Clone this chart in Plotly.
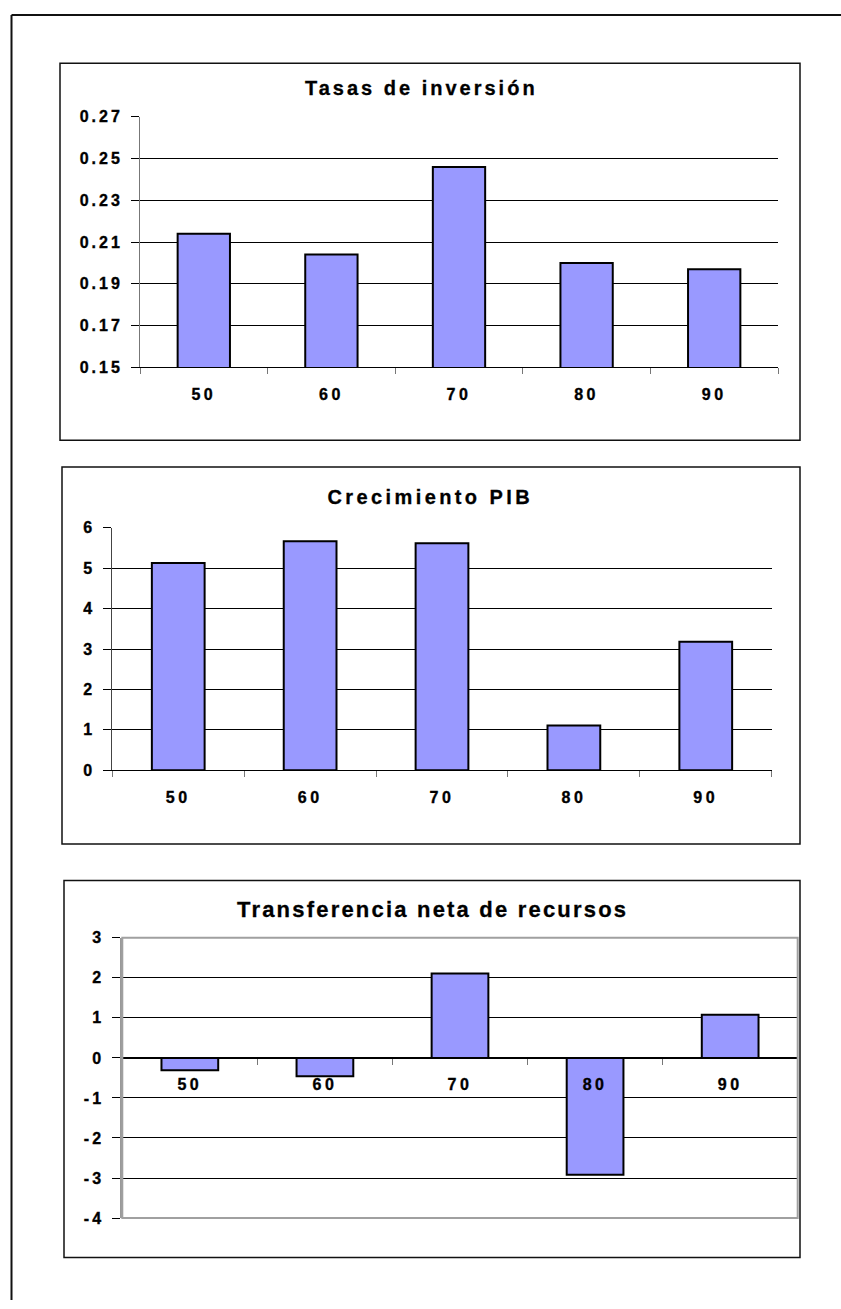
import plotly.graph_objects as go

W, H = 841, 1309

decades = ["50", "60", "70", "80", "90"]
tasas_inversion = [0.214, 0.204, 0.246, 0.200, 0.197]
crecimiento_pib = [5.13, 5.67, 5.62, 1.11, 3.18]
transferencia_neta = [-0.31, -0.46, 2.11, -2.92, 1.08]
transferencia_ticks = [-4, -3, -2, -1, 0, 1, 2, 3]
transferencia_ticklabels = ["-4", "-3", "-2", "-1", "0", "1", "2", "3"]
titles = ["Tasas de inversión", "Crecimiento PIB", "Transferencia neta de recursos"]


def px(x):
    return x / W


def py(y):
    return 1 - y / H


FONT = "Liberation Sans, Arial, sans-serif"
BAR = "#9999FF"

fig = go.Figure()
for vals, xa, ya, wd in [
    (tasas_inversion, "x", "y", 0.41),
    (crecimiento_pib, "x2", "y2", 0.40),
    (transferencia_neta, "x3", "y3", 0.42),
]:
    fig.add_bar(
        x=decades, y=vals, xaxis=xa, yaxis=ya, width=wd,
        marker=dict(color=BAR, line=dict(color="#000000", width=2)),
        hoverinfo="skip",
    )

tickfont = dict(family=FONT, size=16, color="#000000", weight="bold")

common_x = dict(
    type="category", tickson="boundaries", ticks="outside", ticklen=6,
    tickcolor="#777777", tickwidth=1, showline=True, linecolor="#000000",
    linewidth=1, showgrid=False, zeroline=False, tickfont=tickfont,
    ticklabelstandoff=13, fixedrange=True,
)
common_y = dict(
    ticks="outside", ticklen=8, tickcolor="#000000", tickwidth=1,
    showline=True, linecolor="#777777", linewidth=1, showgrid=True,
    gridcolor="#000000", gridwidth=1, zeroline=False, tickfont=tickfont,
    ticklabelstandoff=5, fixedrange=True,
)

# domains
d1x = [px(140), px(778)]
d1y = [py(364), py(110.3)]
d2x = [px(112.3), px(771.7)]
d2y = [py(772.3), py(526.7)]
d3x = [px(122.3), px(797.7)]
d3y = [py(1226), py(942)]
r3 = [transferencia_ticks[0], transferencia_ticks[-1]]
zero_pos = d3y[0] + (0 - r3[0]) / (r3[1] - r3[0]) * (d3y[1] - d3y[0])

fig.update_layout(
    width=W, height=H, margin=dict(l=0, r=0, t=0, b=0),
    paper_bgcolor="white", plot_bgcolor="white", showlegend=False,
    xaxis=dict(common_x, domain=d1x, anchor="y"),
    yaxis=dict(common_y, domain=d1y, anchor="x", range=[0.15, 0.27],
               tick0=0.15, dtick=0.02, tickformat=".2f"),
    xaxis2=dict(common_x, domain=d2x, anchor="y2"),
    yaxis2=dict(common_y, domain=d2y, anchor="x2", range=[0, 6], dtick=1,
                linecolor="#444444"),
    xaxis3=dict(common_x, domain=d3x, anchor="free", position=zero_pos,
                ticklabelstandoff=12),
    yaxis3=dict(common_y, domain=d3y, anchor="x3", range=r3,
                tickmode="array", tickvals=transferencia_ticks,
                ticktext=transferencia_ticklabels,
                linecolor="#999999", linewidth=2),
)

shapes = []
# outer page frame (top and left)
shapes.append(dict(type="line", xref="paper", yref="paper", x0=px(11.5), x1=1,
                   y0=py(7), y1=py(7), line=dict(color="#111111", width=2)))
shapes.append(dict(type="line", xref="paper", yref="paper", x0=px(11.5), x1=px(11.5),
                   y0=py(7), y1=0, line=dict(color="#111111", width=2)))
# chart boxes
for (x0, y0, x1, y1) in [(60, 56, 800, 438), (62, 465, 800, 847), (64, 884, 800, 1266)]:
    shapes.append(dict(type="rect", xref="paper", yref="paper", x0=px(x0), x1=px(x1),
                       y0=py(y1), y1=py(y0), line=dict(color="#111111", width=1.5)))
# plot-area border of chart 3
shapes.append(dict(type="rect", xref="paper", yref="paper", x0=d3x[0], x1=d3x[1],
                   y0=d3y[0], y1=d3y[1], line=dict(color="#a0a0a0", width=2)))
fig.update_layout(shapes=shapes)

ann = []
for t, x, y, s in [(titles[0], 421, 81, 20), (titles[1], 430, 495, 20), (titles[2], 433, 913, 22)]:
    ann.append(dict(text=t, xref="paper", yref="paper", x=px(x), y=py(y),
                    xanchor="center", yanchor="middle", showarrow=False,
                    font=dict(family=FONT, size=s, color="#000000", weight="bold")))
fig.update_layout(annotations=ann)

js = """
document.body.style.margin='0';
var st=document.createElement('style');
st.innerHTML='body{margin:0;} '
 + 'g[class^="x"][class$="tick"] > text{letter-spacing:3.5px;stroke:#000;stroke-width:0.35px;} '
 + 'g[class^="y"][class$="tick"] > text{letter-spacing:3px;stroke:#000;stroke-width:0.35px;} '
 + '.annotation-text{stroke:#000;stroke-width:0.3px;}';
document.head.appendChild(st);
var a=document.querySelectorAll('.annotation-text');
var ls=['3px','3.4px','2.2px'];
for(var i=0;i<a.length&&i<3;i++){a[i].style.letterSpacing=ls[i];}
"""
fig.write_html("out.html", post_script=js)
